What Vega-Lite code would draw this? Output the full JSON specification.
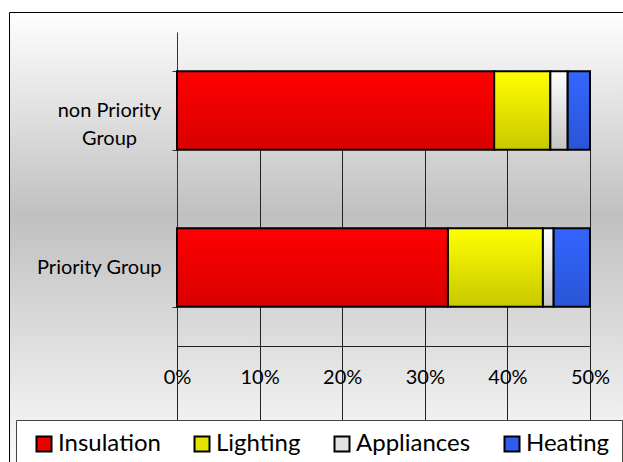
{
  "$schema": "https://vega.github.io/schema/vega-lite/v6.json",
  "autosize": {"type": "none"},
  "padding": {"left": 9, "top": 12, "right": 0, "bottom": 0},
  "width": 614,
  "height": 450,
  "background": "#ffffff",
  "view": {
    "stroke": "#000000",
    "strokeWidth": 1,
    "fill": {
      "gradient": "linear",
      "x1": 0, "y1": 0, "x2": 0, "y2": 1,
      "stops": [
        {"offset": 0, "color": "#ffffff"},
        {"offset": 0.45, "color": "#c0c0c0"},
        {"offset": 0.92, "color": "#f2f2f2"},
        {"offset": 1, "color": "#f8f8f8"}
      ]
    }
  },
  "data": {
    "values": [
      {"group": "non Priority Group", "category": "Insulation", "share": 0.384},
      {"group": "non Priority Group", "category": "Lighting", "share": 0.068},
      {"group": "non Priority Group", "category": "Appliances", "share": 0.021},
      {"group": "non Priority Group", "category": "Heating", "share": 0.027},
      {"group": "Priority Group", "category": "Insulation", "share": 0.328},
      {"group": "Priority Group", "category": "Lighting", "share": 0.115},
      {"group": "Priority Group", "category": "Appliances", "share": 0.013},
      {"group": "Priority Group", "category": "Heating", "share": 0.044}
    ]
  },
  "transform": [
    {"calculate": "indexof(['Insulation', 'Lighting', 'Appliances', 'Heating'], datum.category)", "as": "stackRank"}
  ],
  "mark": {"type": "bar", "stroke": "#000000", "strokeWidth": 2},
  "encoding": {
    "y": {
      "field": "group",
      "type": "nominal",
      "sort": null,
      "scale": {
        "domain": ["non Priority Group", "Priority Group"],
        "range": [20, 334],
        "paddingInner": 0.5,
        "paddingOuter": 0.25
      },
      "axis": {
        "title": null,
        "offset": -168,
        "domainColor": "#333333",
        "tickColor": "#333333",
        "tickSize": 5,
        "tickBand": "extent",
        "tickExtra": true,
        "grid": false,
        "labelFont": "Lato",
        "labelFontSize": 20,
        "labelColor": "#000000",
        "labelLineHeight": 28,
        "labelExpr": "datum.value === 'non Priority Group' ? ['non Priority', 'Group'] : datum.label",
        "labelAlign": {"condition": {"test": "datum.value === 'non Priority Group'", "value": "center"}, "value": "right"},
        "labelPadding": {"condition": {"test": "datum.value === 'non Priority Group'", "value": 63}, "value": 11}
      }
    },
    "x": {
      "field": "share",
      "type": "quantitative",
      "stack": "zero",
      "scale": {"domain": [0, 0.5], "range": [168, 581], "nice": false},
      "axis": {
        "title": null,
        "orient": "bottom",
        "offset": -116,
        "format": ".0%",
        "values": [0, 0.1, 0.2, 0.3, 0.4, 0.5],
        "grid": true,
        "gridColor": "#222222",
        "gridWidth": 1,
        "domainColor": "#222222",
        "tickColor": "#222222",
        "tickSize": 7,
        "labelFont": "Lato",
        "labelFontSize": 20,
        "labelColor": "#000000",
        "labelPadding": 14,
        "labelFlush": false,
        "labelOverlap": false
      }
    },
    "order": {"field": "stackRank", "type": "quantitative", "sort": "ascending"},
    "color": {
      "field": "category",
      "type": "nominal",
      "sort": ["Insulation", "Lighting", "Appliances", "Heating"],
      "scale": {
        "domain": ["Insulation", "Lighting", "Appliances", "Heating"],
        "range": ["#ee0000", "#e4e400", "#e2e2e2", "#2f5eee"]
      },
      "condition": [
        {"test": "datum.category === 'Insulation'", "value": {"gradient": "linear", "x1": 0, "y1": 0, "x2": 0, "y2": 1, "stops": [{"offset": 0, "color": "#ff0000"}, {"offset": 1, "color": "#d80000"}]}},
        {"test": "datum.category === 'Lighting'", "value": {"gradient": "linear", "x1": 0, "y1": 0, "x2": 0, "y2": 1, "stops": [{"offset": 0, "color": "#ffff00"}, {"offset": 1, "color": "#c8c800"}]}},
        {"test": "datum.category === 'Appliances'", "value": {"gradient": "linear", "x1": 0, "y1": 0, "x2": 0, "y2": 1, "stops": [{"offset": 0, "color": "#ffffff"}, {"offset": 1, "color": "#c4c4c4"}]}},
        {"test": "datum.category === 'Heating'", "value": {"gradient": "linear", "x1": 0, "y1": 0, "x2": 0, "y2": 1, "stops": [{"offset": 0, "color": "#3366ff"}, {"offset": 1, "color": "#2a55d6"}]}}
      ],
      "legend": {
        "title": null,
        "orient": "none",
        "legendX": 7,
        "legendY": 408,
        "direction": "horizontal",
        "columns": 4,
        "columnPadding": 25,
        "padding": 12,
        "strokeColor": "#444444",
        "fillColor": "#ffffff",
        "symbolType": "square",
        "symbolSize": 225,
        "symbolStrokeColor": "#000000",
        "symbolStrokeWidth": 2,
        "symbolOffset": 4,
        "labelFont": "Lato",
        "labelFontSize": 24,
        "labelColor": "#000000",
        "labelOffset": 2,
        "labelLimit": 300
      }
    }
  },
  "config": {
    "axis": {"domainWidth": 1, "tickWidth": 1}
  }
}
